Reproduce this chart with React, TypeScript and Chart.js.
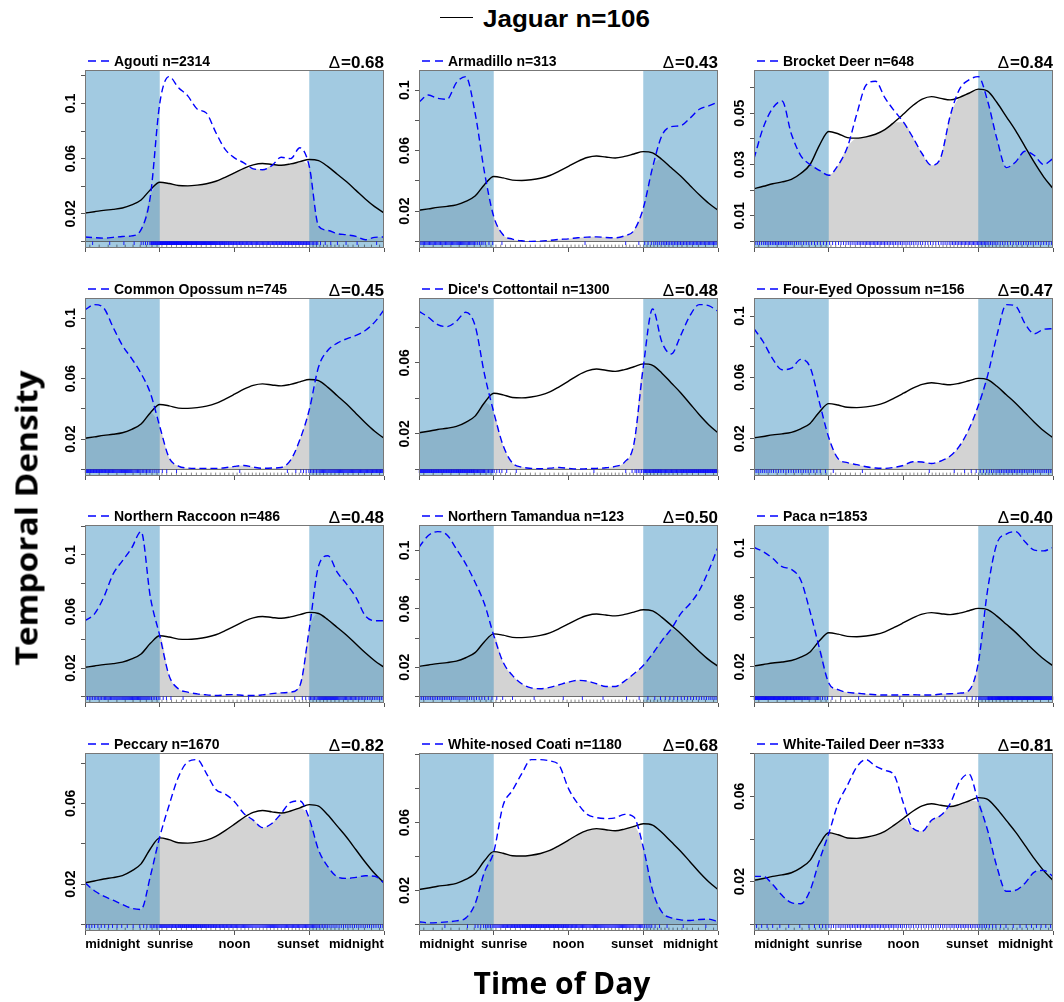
import React, { useEffect, useRef } from "react";
import { Chart, registerables } from "chart.js";

Chart.register(...registerables);

// ---------- DATA ----------
const TIME = [0, 0.125, 0.25, 0.375, 0.5, 0.625, 0.75, 0.875, 1, 1.125, 1.25, 1.375, 1.5, 1.625, 1.75, 1.875, 2, 2.125, 2.25, 2.375, 2.5, 2.625, 2.75, 2.875, 3, 3.125, 3.25, 3.375, 3.5, 3.625, 3.75, 3.875, 4];
const TIME_TICKS = [0, 1, 2, 3, 4];
const TIME_LABELS = ["midnight", "sunrise", "noon", "sunset", "midnight"];
const TIME_LABEL_AT = [0.37, 1.14, 2.0, 2.85, 3.63];
const NIGHT_SPANS = [[0, 1], [3, 4]];

const JAGUAR_NAME = "Jaguar";
const JAGUAR_N = 106;
const jaguar = [0.0206, 0.0215, 0.0225, 0.0232, 0.0242, 0.0265, 0.0300, 0.0375, 0.0429, 0.0420, 0.0405, 0.0403, 0.0408, 0.0418, 0.0436, 0.0465, 0.0497, 0.0530, 0.0555, 0.0565, 0.0558, 0.0552, 0.0562, 0.0578, 0.0594, 0.0586, 0.0542, 0.0487, 0.0432, 0.0370, 0.0308, 0.0252, 0.0206];

const SPECIES = ["Agouti", "Armadillo", "Brocket Deer", "Common Opossum", "Dice's Cottontail", "Four-Eyed Opossum", "Northern Raccoon", "Northern Tamandua", "Paca", "Peccary", "White-nosed Coati", "White-Tailed Deer"];
const SPECIES_N = [2314, 313, 648, 745, 1300, 156, 486, 123, 1853, 1670, 1180, 333];
const OVERLAP_DELTA = ["0.68", "0.43", "0.84", "0.45", "0.48", "0.47", "0.48", "0.50", "0.40", "0.82", "0.68", "0.81"];

const agouti = [0.0032, 0.0027, 0.0024, 0.0029, 0.0036, 0.0040, 0.0085, 0.0330, 0.1000, 0.1195, 0.1115, 0.1055, 0.0960, 0.0930, 0.0790, 0.0667, 0.0606, 0.0570, 0.0526, 0.0520, 0.0550, 0.0610, 0.0600, 0.0679, 0.0545, 0.0110, 0.0080, 0.0056, 0.0048, 0.0036, 0.0012, 0.0029, 0.0032];
const armadillo = [0.0922, 0.0968, 0.0946, 0.0940, 0.1050, 0.1090, 0.0850, 0.0460, 0.0164, 0.0044, 0.0015, 0.0004, 0.0000, 0.0002, 0.0007, 0.0013, 0.0017, 0.0024, 0.0028, 0.0030, 0.0026, 0.0024, 0.0037, 0.0072, 0.0219, 0.0490, 0.0700, 0.0759, 0.0765, 0.0815, 0.0874, 0.0896, 0.0922];
const brocketDeer = [0.0323, 0.0445, 0.0520, 0.0548, 0.0419, 0.0335, 0.0300, 0.0277, 0.0258, 0.0297, 0.0368, 0.0497, 0.0610, 0.0625, 0.0561, 0.0510, 0.0465, 0.0406, 0.0342, 0.0297, 0.0329, 0.0490, 0.0594, 0.0630, 0.0643, 0.0548, 0.0400, 0.0288, 0.0310, 0.0352, 0.0335, 0.0300, 0.0323];
const commonOpossum = [0.1054, 0.1089, 0.1067, 0.0940, 0.0820, 0.0732, 0.0634, 0.0503, 0.0284, 0.0077, 0.0022, 0.0009, 0.0007, 0.0007, 0.0007, 0.0011, 0.0020, 0.0026, 0.0015, 0.0007, 0.0009, 0.0013, 0.0061, 0.0197, 0.0393, 0.0678, 0.0787, 0.0835, 0.0863, 0.0885, 0.0918, 0.0973, 0.1054];
const dicesCottontail = [0.0890, 0.0857, 0.0815, 0.0804, 0.0834, 0.0885, 0.0810, 0.0538, 0.0322, 0.0135, 0.0036, 0.0013, 0.0006, 0.0004, 0.0007, 0.0011, 0.0006, 0.0002, 0.0004, 0.0006, 0.0009, 0.0017, 0.0041, 0.0144, 0.0575, 0.0903, 0.0716, 0.0650, 0.0753, 0.0866, 0.0928, 0.0922, 0.0890];
const fourEyedOpossum = [0.0918, 0.0831, 0.0721, 0.0650, 0.0660, 0.0718, 0.0667, 0.0437, 0.0208, 0.0070, 0.0044, 0.0031, 0.0017, 0.0009, 0.0007, 0.0013, 0.0026, 0.0050, 0.0048, 0.0039, 0.0055, 0.0087, 0.0153, 0.0262, 0.0415, 0.0612, 0.0874, 0.1075, 0.1065, 0.0951, 0.0885, 0.0914, 0.0918];
const northernRaccoon = [0.0535, 0.0582, 0.0700, 0.0864, 0.0958, 0.1050, 0.1165, 0.0700, 0.0429, 0.0147, 0.0053, 0.0030, 0.0018, 0.0011, 0.0006, 0.0011, 0.0013, 0.0006, 0.0006, 0.0011, 0.0020, 0.0025, 0.0030, 0.0077, 0.0476, 0.0923, 0.0994, 0.0876, 0.0794, 0.0700, 0.0570, 0.0535, 0.0535];
const northernTamandua = [0.1023, 0.1103, 0.1130, 0.1107, 0.1011, 0.0909, 0.0783, 0.0635, 0.0418, 0.0235, 0.0144, 0.0087, 0.0059, 0.0053, 0.0062, 0.0080, 0.0098, 0.0110, 0.0105, 0.0087, 0.0068, 0.0068, 0.0105, 0.0155, 0.0212, 0.0292, 0.0383, 0.0463, 0.0566, 0.0635, 0.0726, 0.0863, 0.1023];
const paca = [0.1005, 0.0976, 0.0931, 0.0875, 0.0857, 0.0785, 0.0572, 0.0325, 0.0090, 0.0045, 0.0027, 0.0022, 0.0016, 0.0011, 0.0009, 0.0009, 0.0011, 0.0011, 0.0009, 0.0009, 0.0016, 0.0018, 0.0022, 0.0040, 0.0224, 0.0718, 0.1032, 0.1095, 0.1112, 0.1043, 0.0987, 0.0982, 0.1005];
const peccary = [0.0206, 0.0167, 0.0140, 0.0120, 0.0099, 0.0080, 0.0074, 0.0240, 0.0434, 0.0591, 0.0731, 0.0806, 0.0817, 0.0748, 0.0669, 0.0646, 0.0608, 0.0550, 0.0517, 0.0480, 0.0500, 0.0550, 0.0605, 0.0612, 0.0525, 0.0368, 0.0286, 0.0236, 0.0228, 0.0233, 0.0241, 0.0239, 0.0206];
const whiteNosedCoati = [0.0016, 0.0009, 0.0011, 0.0015, 0.0021, 0.0037, 0.0121, 0.0308, 0.0427, 0.0702, 0.0791, 0.0889, 0.0972, 0.0972, 0.0964, 0.0938, 0.0801, 0.0712, 0.0649, 0.0630, 0.0624, 0.0628, 0.0649, 0.0633, 0.0456, 0.0200, 0.0072, 0.0039, 0.0027, 0.0023, 0.0029, 0.0031, 0.0016];
const whiteTailedDeer = [0.0225, 0.0225, 0.0187, 0.0136, 0.0102, 0.0097, 0.0159, 0.0300, 0.0425, 0.0566, 0.0652, 0.0738, 0.0772, 0.0741, 0.0722, 0.0699, 0.0566, 0.0450, 0.0436, 0.0488, 0.0511, 0.0566, 0.0668, 0.0705, 0.0575, 0.0441, 0.0269, 0.0155, 0.0160, 0.0193, 0.0245, 0.0253, 0.0225];

const DENSITIES = [agouti, armadillo, brocketDeer, commonOpossum, dicesCottontail, fourEyedOpossum, northernRaccoon, northernTamandua, paca, peccary, whiteNosedCoati, whiteTailedDeer];

const Y_TICK_STEP = [0.02, 0.02, 0.01, 0.02, 0.02, 0.02, 0.02, 0.02, 0.02, 0.02, 0.02, 0.02];
const Y_TICK_LABELS = [
  ["0.02", "0.06", "0.1"], ["0.02", "0.06", "0.1"], ["0.01", "0.03", "0.05"],
  ["0.02", "0.06", "0.1"], ["0.02", "0.06"], ["0.02", "0.06", "0.1"],
  ["0.02", "0.06", "0.1"], ["0.02", "0.06", "0.1"], ["0.02", "0.06", "0.1"],
  ["0.02", "0.06"], ["0.02", "0.06"], ["0.02", "0.06"],
];

// ---------- LAYOUT / STYLE ----------
const COL_LEFT = [85, 419, 754];
const ROW_TOP = [70, 298, 525, 753];
const PW = 299;
const PH = 178;
const ML = 52, MR = 6, MT = 28, MB = 26;
const NIGHT_FILL = "rgba(70,150,195,0.5)";
const OVERLAP_FILL = "#d3d3d3";
const SPECIES_BLUE = "#0000ff";
const SANS = '"Liberation Sans", Arial, sans-serif';

function rugCount(n: number) {
  return Math.round(6 * Math.sqrt(n));
}

// positions spread along the time axis following the density's cumulative distribution
function rugPositions(d: number[], count: number): number[] {
  const cum = [0];
  for (let k = 1; k < d.length; k++) cum.push(cum[k - 1] + ((d[k - 1] + d[k]) / 2) * (TIME[k] - TIME[k - 1]));
  const total = cum[cum.length - 1];
  const out: number[] = [];
  let k = 1;
  for (let i = 0; i < count; i++) {
    const p = ((i + 0.5) / count) * total;
    while (k < cum.length - 1 && cum[k] < p) k++;
    const span = cum[k] - cum[k - 1] || 1;
    const f = (p - cum[k - 1]) / span;
    out.push(TIME[k - 1] + f * (TIME[k] - TIME[k - 1]));
  }
  return out;
}

function buildConfig(i: number): any {
  const dens = DENSITIES[i];
  const row = Math.floor(i / 3);
  const isBottom = row === 3;
  const overlap = TIME.map((_, k) => Math.min(jaguar[k], dens[k]));
  const M = Math.max(...jaguar, ...dens);
  const ymin = -0.04 * M;
  const ymax = 1.04 * M;
  const unitsPerPx = (ymax - ymin) / PH;
  const step = Y_TICK_STEP[i];
  const yTicks: number[] = [];
  for (let v = 0; v <= ymax + 1e-9; v = Math.round((v + step) * 1e6) / 1e6) yTicks.push(v);

  const speciesRug = rugPositions(dens, rugCount(SPECIES_N[i])).map((x) => ({ x, y: -1.8 * unitsPerPx }));
  const jaguarRug = rugPositions(jaguar, rugCount(JAGUAR_N)).map((x) => ({ x, y: ymin + 1.7 * unitsPerPx }));

  const curve = (arr: number[]) => TIME.map((x, k) => ({ x, y: arr[k] }));

  const panelPlugin = {
    id: "panelDecor",
    afterDatasetDraw(chart: any, args: any) {
      if (args.index !== 0) return;
      const { ctx, chartArea: a, scales } = chart;
      ctx.save();
      ctx.fillStyle = NIGHT_FILL;
      for (const [s, e] of NIGHT_SPANS) {
        const x0 = scales.x.getPixelForValue(s);
        const x1 = scales.x.getPixelForValue(e);
        ctx.fillRect(x0, a.top, x1 - x0, a.bottom - a.top);
      }
      const y0 = Math.round(scales.y.getPixelForValue(0)) + 0.5;
      ctx.strokeStyle = "rgba(70,70,70,0.75)";
      ctx.lineWidth = 1;
      ctx.beginPath();
      ctx.moveTo(a.left, y0);
      ctx.lineTo(a.right, y0);
      ctx.stroke();
      ctx.restore();
    },
    afterDraw(chart: any) {
      const { ctx, chartArea: a, scales } = chart;
      ctx.save();
      // box
      ctx.strokeStyle = "#777";
      ctx.lineWidth = 1;
      ctx.strokeRect(Math.round(a.left) + 0.5, Math.round(a.top) + 0.5, Math.round(a.right - a.left) - 1, Math.round(a.bottom - a.top) - 1);
      // y tick labels (rotated)
      ctx.fillStyle = "#000";
      ctx.font = `bold 14px ${SANS}`;
      ctx.textAlign = "center";
      ctx.textBaseline = "alphabetic";
      for (const lab of Y_TICK_LABELS[i]) {
        const py = scales.y.getPixelForValue(parseFloat(lab));
        ctx.save();
        ctx.translate(a.left - 10, py);
        ctx.rotate(-Math.PI / 2);
        ctx.fillText(lab, 0, 0);
        ctx.restore();
      }
      // x labels on bottom row
      if (isBottom) {
        ctx.font = `bold 13px ${SANS}`;
        ctx.textAlign = "center";
        TIME_LABELS.forEach((lab, k) => {
          ctx.fillText(lab, scales.x.getPixelForValue(TIME_LABEL_AT[k]), a.bottom + 17);
        });
      }
      // title with dashed legend key
      ctx.strokeStyle = SPECIES_BLUE;
      ctx.lineWidth = 1.5;
      ctx.setLineDash([8, 5]);
      ctx.beginPath();
      ctx.moveTo(a.left + 3, a.top - 9);
      ctx.lineTo(a.left + 25, a.top - 9);
      ctx.stroke();
      ctx.setLineDash([]);
      ctx.font = `bold 14px ${SANS}`;
      ctx.textAlign = "left";
      ctx.fillText(`${SPECIES[i]} n=${SPECIES_N[i]}`, a.left + 29, a.top - 4);
      // delta
      ctx.textAlign = "right";
      ctx.font = `bold 17px ${SANS}`;
      const val = "=" + OVERLAP_DELTA[i];
      ctx.fillText(val, a.right, a.top - 2);
      const w = ctx.measureText(val).width;
      ctx.font = `17px ${SANS}`;
      ctx.fillText("Δ", a.right - w - 1, a.top - 2);
      ctx.restore();
    },
  };

  const gridOpts = { display: true, drawOnChartArea: false, drawTicks: true, tickLength: 4, color: "#555", lineWidth: 1 };

  return {
    type: "line",
    data: {
      datasets: [
        {
          label: "overlap",
          data: curve(overlap),
          borderColor: "rgba(0,0,0,0)",
          borderWidth: 0,
          backgroundColor: OVERLAP_FILL,
          fill: "origin",
          pointRadius: 0,
          cubicInterpolationMode: "monotone",
          order: 10,
        },
        {
          label: JAGUAR_NAME,
          data: curve(jaguar),
          borderColor: "#000",
          borderWidth: 1.4,
          fill: false,
          pointRadius: 0,
          cubicInterpolationMode: "monotone",
          order: 2,
        },
        {
          label: SPECIES[i],
          data: curve(dens),
          borderColor: SPECIES_BLUE,
          borderWidth: 1.4,
          borderDash: [7, 4],
          fill: false,
          pointRadius: 0,
          cubicInterpolationMode: "monotone",
          order: 1,
        },
        {
          label: "species rug",
          data: speciesRug,
          showLine: false,
          pointStyle: "line",
          pointRotation: 90,
          pointRadius: 1.8,
          pointBorderWidth: 1,
          pointBorderColor: "rgba(0,0,255,0.85)",
          pointBackgroundColor: "rgba(0,0,255,0.85)",
          clip: false,
          order: 0,
        },
        {
          label: "jaguar rug",
          data: jaguarRug,
          showLine: false,
          pointStyle: "line",
          pointRotation: 90,
          pointRadius: 1.7,
          pointBorderWidth: 0.8,
          pointBorderColor: "rgba(0,0,0,0.6)",
          pointBackgroundColor: "rgba(0,0,0,0.6)",
          clip: false,
          order: 0,
        },
      ],
    },
    options: {
      animation: false,
      responsive: false,
      devicePixelRatio: 1,
      events: [],
      layout: { padding: { left: 0, right: MR, top: MT, bottom: 0 } },
      plugins: { legend: { display: false }, tooltip: { enabled: false }, title: { display: false } },
      scales: {
        x: {
          type: "linear",
          min: 0,
          max: 4,
          afterBuildTicks: (s: any) => {
            s.ticks = TIME_TICKS.map((v) => ({ value: v }));
          },
          afterFit: (s: any) => {
            s.height = MB;
          },
          ticks: { display: false },
          grid: gridOpts,
          border: { display: false },
        },
        y: {
          type: "linear",
          min: ymin,
          max: ymax,
          afterBuildTicks: (s: any) => {
            s.ticks = yTicks.map((v) => ({ value: v }));
          },
          afterFit: (s: any) => {
            s.width = ML;
          },
          ticks: { display: false },
          grid: gridOpts,
          border: { display: false },
        },
      },
    },
    plugins: [panelPlugin],
  };
}

function Panel({ index }: { index: number }) {
  const ref = useRef<HTMLCanvasElement | null>(null);
  useEffect(() => {
    if (!ref.current) return;
    const chart = new Chart(ref.current, buildConfig(index));
    return () => chart.destroy();
  }, [index]);
  const col = index % 3;
  const row = Math.floor(index / 3);
  const w = PW + ML + MR;
  const h = PH + MT + MB;
  return (
    <canvas
      ref={ref}
      width={w}
      height={h}
      style={{ position: "absolute", left: COL_LEFT[col] - ML, top: ROW_TOP[row] - MT, width: w, height: h }}
    />
  );
}

export default function App() {
  return (
    <div style={{ position: "absolute", left: 0, top: 0, width: 1064, height: 1002, background: "#fff", overflow: "hidden" }}>
      <div style={{ position: "absolute", left: 440, top: 17, width: 33, height: 0, borderTop: "1.5px solid #000" }} />
      <div
        style={{
          position: "absolute",
          left: 483,
          top: 8,
          fontFamily: SANS,
          fontWeight: "bold",
          fontSize: 23,
          lineHeight: "23px",
          whiteSpace: "nowrap",
          transform: "scaleX(1.13)",
          transformOrigin: "left center",
          color: "#000",
        }}
      >
        {`${JAGUAR_NAME} n=${JAGUAR_N}`}
      </div>
      {SPECIES.map((_, i) => (
        <Panel key={i} index={i} />
      ))}
      <div
        style={{
          position: "absolute",
          left: 26,
          top: 518,
          fontFamily: '"Open Sans", sans-serif',
          fontWeight: 700,
          fontSize: 31,
          lineHeight: "31px",
          whiteSpace: "nowrap",
          transform: "translate(-50%, -50%) rotate(-90deg) scaleX(1.08)",
          color: "#000",
        }}
      >
        Temporal Density
      </div>
      <div
        style={{
          position: "absolute",
          left: 562,
          top: 983,
          fontFamily: '"Open Sans", sans-serif',
          fontWeight: 700,
          fontSize: 30,
          lineHeight: "30px",
          whiteSpace: "nowrap",
          transform: "translate(-50%, -50%)",
          color: "#000",
        }}
      >
        Time of Day
      </div>
    </div>
  );
}
